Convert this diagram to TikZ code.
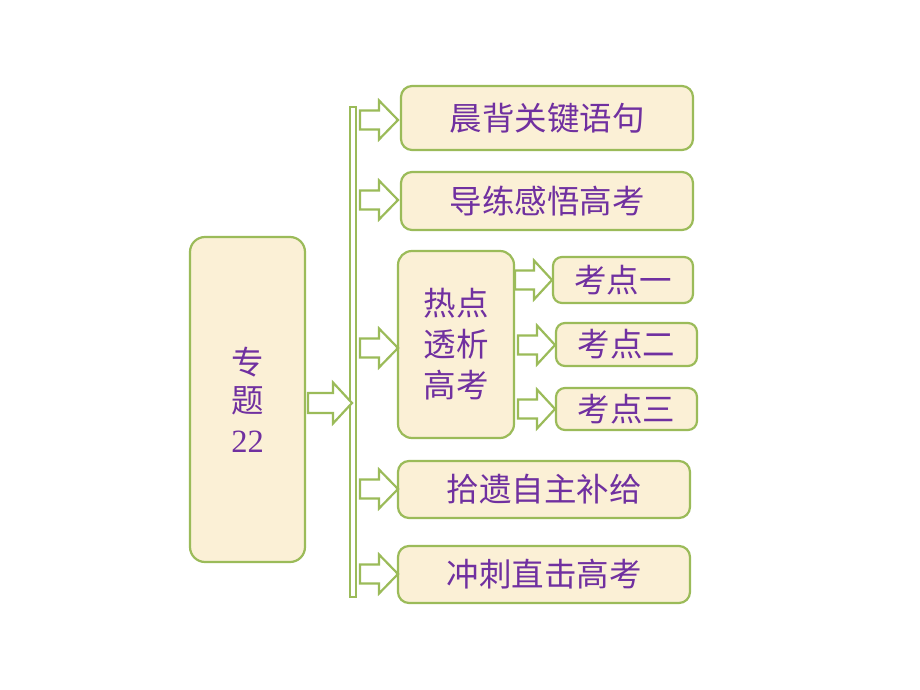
\documentclass[tikz,border=0pt]{standalone}
\usepackage{fontspec}
\setmainfont{Noto Sans CJK SC}
\newfontfamily\digitfont{Liberation Serif}
\usetikzlibrary{calc}
\definecolor{gborder}{HTML}{9BBB59}
\definecolor{parch}{HTML}{FBF0D6}
\definecolor{ptext}{HTML}{7030A0}
\tikzset{
  box/.style={draw=gborder, line width=2.2pt, fill=parch, rounded corners=11pt,
    text=ptext, font=\fontsize{32.5}{38}\selectfont, inner sep=0pt, align=center},
  arr/.style={draw=gborder, line width=2.2pt, fill=white, line join=miter},
  barstyle/.style={draw=gborder, line width=1.8pt, fill=white}
}
% #1 start, #2 end, #3 shaft half, #4 head half, #5 head length
\newcommand\blockarrow[5]{%
  \draw[arr] let \p1=(#1), \p2=(#2) in
    (\x1,\y1+#3) -- (\x2-#5,\y1+#3) -- (\x2-#5,\y1+#4) -- (\x2,\y1)
    -- (\x2-#5,\y1-#4) -- (\x2-#5,\y1-#3) -- (\x1,\y1-#3) -- cycle;}
\begin{document}
\begin{tikzpicture}[x=1pt,y=-1pt]
\useasboundingbox (0,0) rectangle (920,690);
% left box
\node[box, minimum width=115pt, minimum height=325pt, rounded corners=15pt] (left) at (247.5,399.5)
  {专\\[0pt]题\\[2pt]{\digitfont 22}};
% vertical bar
\draw[barstyle] (350,107) rectangle (356,597);
\node[inner sep=0pt, minimum width=6pt, minimum height=490pt] (bar) at (353,352) {};
% right boxes
\node[box, minimum width=292pt, minimum height=64pt] (b1) at (547,118) {晨背关键语句};
\node[box, minimum width=292pt, minimum height=58pt] (b2) at (547,201) {导练感悟高考};
\node[box, minimum width=116pt, minimum height=187pt, rounded corners=14pt] (b3) at (456,344.5)
  {热点\\[3pt]透析\\[3pt]高考};
\node[box, minimum width=140pt, minimum height=46pt, rounded corners=9pt] (k1) at (623,280) {考点一};
\node[box, minimum width=141pt, minimum height=43pt, rounded corners=9pt] (k2) at (626.5,344.5) {考点二};
\node[box, minimum width=141pt, minimum height=42pt, rounded corners=9pt] (k3) at (626.5,409) {考点三};
\node[box, minimum width=292pt, minimum height=57pt] (b4) at (544,489.5) {拾遗自主补给};
\node[box, minimum width=292pt, minimum height=57pt] (b5) at (544,574.5) {冲刺直击高考};
% arrow endpoints
\coordinate (m0s) at (308,403); \coordinate (m0e) at (352,403);
\coordinate (a1s) at (360,120); \coordinate (a1e) at (398,120);
\coordinate (a2s) at (360,200); \coordinate (a2e) at (398,200);
\coordinate (a3s) at (360,348); \coordinate (a3e) at (398,348);
\coordinate (a4s) at (360,489); \coordinate (a4e) at (398,489);
\coordinate (a5s) at (360,574); \coordinate (a5e) at (398,574);
\coordinate (k1s) at (515,280); \coordinate (k1e) at (552,280);
\coordinate (k2s) at (518,345); \coordinate (k2e) at (555,345);
\coordinate (k3s) at (518,409); \coordinate (k3e) at (555,409);
\blockarrow{m0s}{m0e}{10pt}{20.5pt}{19pt}
\blockarrow{a1s}{a1e}{9.5pt}{19.5pt}{19pt}
\blockarrow{a2s}{a2e}{9.5pt}{19.5pt}{19pt}
\blockarrow{a3s}{a3e}{9.5pt}{19.5pt}{19pt}
\blockarrow{a4s}{a4e}{9.5pt}{19.5pt}{19pt}
\blockarrow{a5s}{a5e}{9.5pt}{19.5pt}{19pt}
\blockarrow{k1s}{k1e}{9.5pt}{19.5pt}{18pt}
\blockarrow{k2s}{k2e}{9.5pt}{19.5pt}{18pt}
\blockarrow{k3s}{k3e}{9.5pt}{19.5pt}{18pt}
\end{tikzpicture}
\end{document}
